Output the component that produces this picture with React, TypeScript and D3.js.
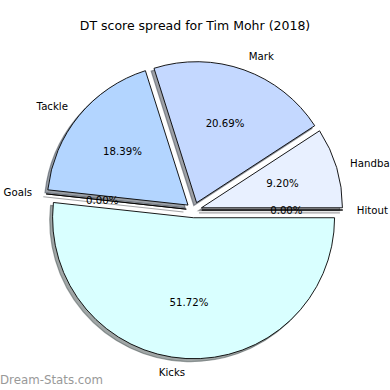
import React from "react";
import * as d3 from "d3";

const categories = ["Hitout", "Handball", "Mark", "Tackle", "Goals", "Kicks"];
const values = [0, 8, 18, 16, 0, 45];
const colors = ["#f0f5ff", "#e8f0ff", "#c4d8ff", "#b3d5ff", "#f0f5ff", "#d9ffff"];
const title = "DT score spread for Tim Mohr (2018)";
const watermark = "Dream-Stats.com";

const W = 390;
const H = 390;
const cx = 194;
const cy = 210;
const R = 141;
const explode = 0.055;
const font = "DejaVu Sans, sans-serif";

function shade(c: string) {
  const rgb = d3.rgb(c);
  return d3.rgb(rgb.r * 0.3, rgb.g * 0.3, rgb.b * 0.3).toString();
}

export default function App() {
  const total = d3.sum(values);
  const pie = d3
    .pie<number>()
    .sort(null)
    .value((d) => d)
    .startAngle(Math.PI / 2)
    .endAngle(Math.PI / 2 - 2 * Math.PI);
  const arcs = pie(values);
  const arc = d3.arc<d3.PieArcDatum<number>>().innerRadius(0).outerRadius(R);

  const items = arcs.map((a, i) => {
    const mid = (a.startAngle + a.endAngle) / 2; // d3 angle: 0 = up, clockwise
    const ux = Math.sin(mid);
    const uy = -Math.cos(mid);
    const ox = cx + explode * R * ux;
    const oy = cy + explode * R * uy;
    const lx = ox + 1.1 * R * ux;
    const ly = oy + 1.1 * R * uy;
    const px = ox + 0.6 * R * ux;
    const py = oy + 0.6 * R * uy;
    const anchor = lx - cx > 0 ? "start" : "end";
    return { a, i, ox, oy, lx, ly, px, py, anchor };
  });

  const sh = 0.02 * R;

  return (
    <svg width={W} height={H} style={{ position: "absolute", left: 0, top: 0, background: "#fff" }}>
      <rect x={0} y={0} width={W} height={H} fill="#fff" />
      <text x={195} y={25} textAnchor="middle" dominantBaseline="central" fontFamily={font} fontSize={12.5} fill="#000">
        {title}
      </text>
      {items.map((it) => (
        <path
          key={"s" + it.i}
          d={arc(it.a) || ""}
          transform={`translate(${it.ox - sh},${it.oy + sh})`}
          fill={shade(colors[it.i])}
          fillOpacity={0.5}
          stroke={shade(colors[it.i])}
          strokeOpacity={0.5}
          strokeWidth={1.2}
        />
      ))}
      {items.map((it) => (
        <path
          key={"w" + it.i}
          d={arc(it.a) || ""}
          transform={`translate(${it.ox},${it.oy})`}
          fill={colors[it.i]}
          stroke="#000"
          strokeWidth={0.9}
          strokeLinejoin="miter"
        />
      ))}
      {items.map((it) => (
        <text
          key={"l" + it.i}
          x={it.lx}
          y={it.ly}
          textAnchor={it.anchor}
          dominantBaseline="central"
          fontFamily={font}
          fontSize={10.2}
          fill="#000"
        >
          {categories[it.i]}
        </text>
      ))}
      {items.map((it) => (
        <text
          key={"p" + it.i}
          x={it.px}
          y={it.py}
          textAnchor="middle"
          dominantBaseline="central"
          fontFamily={font}
          fontSize={10.2}
          fill="#000"
        >
          {((values[it.i] / total) * 100).toFixed(2) + "%"}
        </text>
      ))}
      <text x={0} y={380} dominantBaseline="central" fontFamily={font} fontSize={11.8} fill="#999">
        {watermark}
      </text>
    </svg>
  );
}
